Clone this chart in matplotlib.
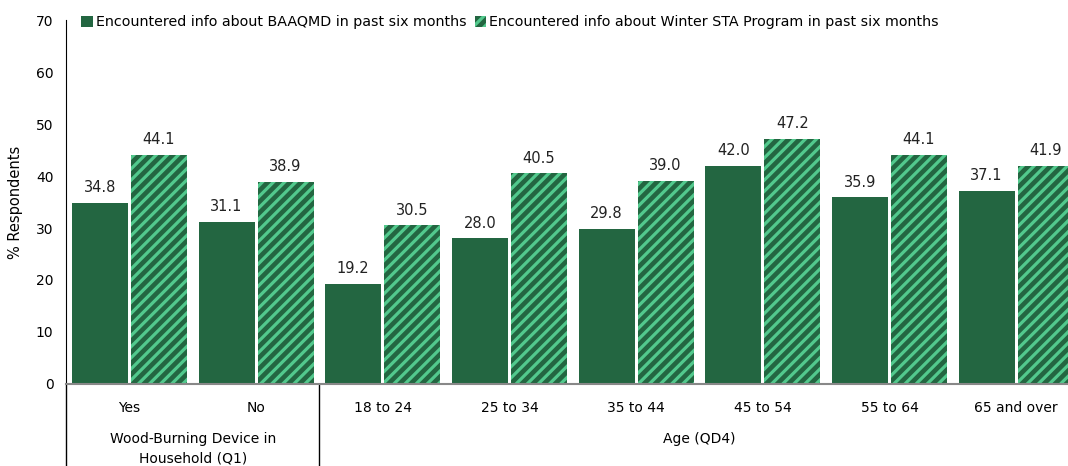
import matplotlib.pyplot as plt
import numpy as np

categories = ['Yes', 'No', '18 to 24', '25 to 34', '35 to 44', '45 to 54', '55 to 64', '65 and over']
baaqmd = [34.8, 31.1, 19.2, 28.0, 29.8, 42.0, 35.9, 37.1]
winter_sta = [44.1, 38.9, 30.5, 40.5, 39.0, 47.2, 44.1, 41.9]
groups = ['Wood-Burning Device in\nHousehold (Q1)', 'Age (QD4)']
group_spans = [(0, 2), (2, 8)]
series_names = ['Encountered info about BAAQMD in past six months',
                'Encountered info about Winter STA Program in past six months']

dark = '#236641'
light = '#52c98d'

plt.rcParams['hatch.linewidth'] = 2.3
plt.rcParams['font.family'] = 'DejaVu Sans'

fig = plt.figure(figsize=(10.68, 4.66), dpi=100)
# the last group runs a little past the right edge of the figure
ax = fig.add_axes([0.0618, 0.176, 0.949, 0.781])

x = np.arange(len(categories))
w = 0.442
b1 = ax.bar(x - 0.233, baaqmd, w, color=dark, label=series_names[0])
b2 = ax.bar(x + 0.233, winter_sta, w, color=dark, edgecolor=light, hatch='///',
            linewidth=0, label=series_names[1])

for bars, vals in ((b1, baaqmd), (b2, winter_sta)):
    for r, v in zip(bars, vals):
        ax.text(r.get_x() + r.get_width() / 2, v + 1.5, f'{v:.1f}',
                ha='center', va='bottom', fontsize=10.5, color='#222222')

ax.set_xlim(-0.5, len(categories) - 0.5)
ax.set_ylim(0, 70)
ax.set_yticks(range(0, 71, 10))
ax.tick_params(axis='y', length=0, labelsize=10, pad=9)
ax.tick_params(axis='x', length=0, labelsize=10, pad=12)
ax.set_xticks(x)
ax.set_xticklabels(categories)
ax.set_ylabel('% Respondents', fontsize=10.5, labelpad=9)

for s in ('top', 'right'):
    ax.spines[s].set_visible(False)
ax.spines['left'].set_color('black')
ax.spines['bottom'].set_color('#888888')
ax.spines['bottom'].set_linewidth(1.5)

# group separators and group labels under the axis
for start, end in group_spans:
    ax.plot([start - 0.5, start - 0.5], [0, -0.235], transform=ax.get_xaxis_transform(),
            color='black', lw=1, clip_on=False)
for (start, end), name in zip(group_spans, groups):
    ax.text((start + end - 1) / 2, -0.133, name, transform=ax.get_xaxis_transform(),
            ha='center', va='top', fontsize=10, linespacing=1.45)

fig.legend(handles=[b1, b2], loc='upper left', bbox_to_anchor=(0.064, 0.995), ncol=2,
           frameon=False, fontsize=10.3, handlelength=0.8, handleheight=0.8,
           handletextpad=0.2, columnspacing=0.6)

fig.savefig('out.png', dpi=100)
